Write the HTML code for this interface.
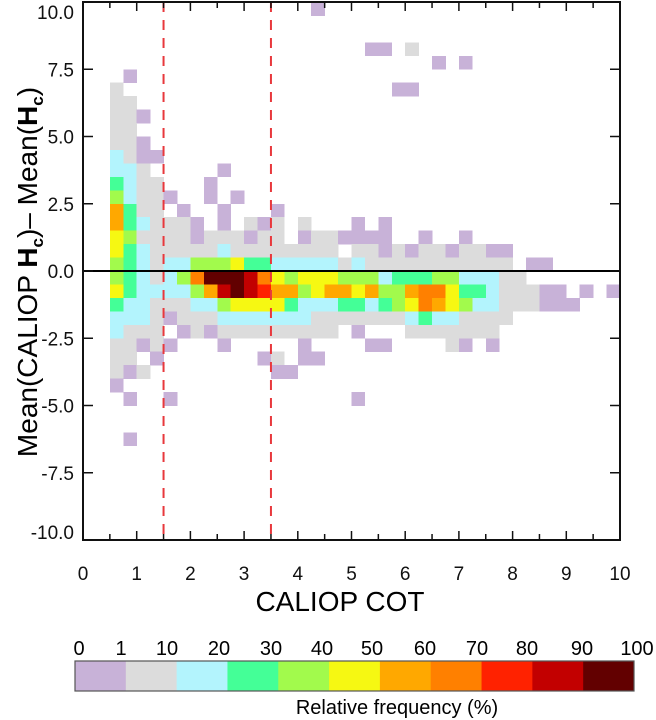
<!DOCTYPE html>
<html><head><meta charset="utf-8"><style>
html,body{margin:0;padding:0;background:#fff;}
svg{display:block;font-family:"Liberation Sans",Arial,sans-serif;}
</style></head><body>
<svg id="chart" width="656" height="720" viewBox="0 0 656 720" xmlns="http://www.w3.org/2000/svg">
<g id="cells" shape-rendering="crispEdges"></g>
<g id="axes"></g>
<g id="cbar"></g>
<text x="340" y="611" font-size="28" text-anchor="middle">CALIOP COT</text>
<text transform="translate(37,272) rotate(-90)" font-size="28" text-anchor="middle">Mean(CALIOP <tspan font-weight="bold">H</tspan><tspan font-weight="bold" font-size="17" dy="6">c</tspan><tspan dy="-6">)– Mean(</tspan><tspan font-weight="bold">H</tspan><tspan font-weight="bold" font-size="17" dy="6">c</tspan><tspan dy="-6">)</tspan></text>
<text x="397" y="714" font-size="20" text-anchor="middle">Relative  frequency (%)</text>
</svg>
<script>
// Grid data: x bins of 0.25 starting at 0.5 (38 columns), y bins of 0.5 from 10 down to -10 (40 rows)
// codes: 0 none, 1: 0-1%, 2: 1-10, 3: 10-20, 4: 20-30, 5: 30-40, 6: 40-50, 7: 50-60, 8: 60-70, 9: 70-80, A: 80-90, B: 90-100
const xStart = 0.5;
const xBin = 0.25;
const yTop = 10;
const yBin = 0.5;
const gridRows = [
"00000000000000010000000000000000000000",
"00000000000000000000000000000000000000",
"00000000000000000000000000000000000000",
"00000000000000000001102000000000000000",
"00000000000000000000000010100000000000",
"01000000000000000000000000000000000000",
"20000000000000000000011000000000000000",
"22000000000000000000000000000000000000",
"22100000000000000000000000000000000000",
"22000000000000000000000000000000000000",
"22100000000000000000000000000000000000",
"32110000000000000000000000000000000000",
"33200000100000000000000000000000000000",
"43220001000000000000000000000000000000",
"53221001010000000000000000000000000000",
"74220100100010000000000000000000000000",
"74322210102120200010100000000000000000",
"65222212221220122111100100100000000000",
"64322222322222222022121221221100000000",
"54323355564433333232222222222201100000",
"5432358BBBA865666555344455333220000000",
"64333357ABA977567767557886443222110101",
"43322233566664333443456876533222111000",
"33321222333333322222223433222200000000",
"32220121222222222010002222222000000000",
"22121000100000100001100002101000000000",
"22010000000120110000000000000000000000",
"21200000000011000000000000000000000000",
"10000000000000000000000000000000000000",
"01001000000000000010000000000000000000",
"00000000000000000000000000000000000000",
"00000000000000000000000000000000000000",
"01000000000000000000000000000000000000",
"00000000000000000000000000000000000000",
"00000000000000000000000000000000000000",
"00000000000000000000000000000000000000",
"00000000000000000000000000000000000000",
"00000000000000000000000000000000000000",
"00000000000000000000000000000000000000",
"00000000000000000000000000000000000000"
];
const levelLabels = ["0","1","10","20","30","40","50","60","70","80","90","100"];
const levelColors = ["#c8b2d8","#dcdcdc","#b3f4fd","#44ff97","#a2fa4c","#f6f812","#ffa800","#ff8000","#ff2200","#c20000","#620000"];
const xTicks = [0,1,2,3,4,5,6,7,8,9,10];
const yTicks = [10,7.5,5,2.5,0,-2.5,-5,-7.5,-10];
const yTickLabels = ["10.0","7.5","5.0","2.5","0.0","-2.5","-5.0","-7.5","-10.0"];
const dashedX = [1.5,3.5];

const NS="http://www.w3.org/2000/svg";
const L=83,R=620,T=2,B=540;
const X=v=>L+(v-0)/(10-0)*(R-L);
const Y=v=>T+(10-v)/20*(B-T);
function mk(tag,attrs,parent){const e=document.createElementNS(NS,tag);for(const k in attrs)e.setAttribute(k,attrs[k]);parent.appendChild(e);return e;}

const cells=document.getElementById('cells');
gridRows.forEach((row,r)=>{
  for(let c=0;c<row.length;c++){
    const code=parseInt(row[c],16);
    if(!code)continue;
    const x0=X(xStart+c*xBin),x1=X(xStart+(c+1)*xBin);
    const y0=Y(yTop-r*yBin),y1=Y(yTop-(r+1)*yBin);
    const e=mk('rect',{x:x0,y:y0,width:x1-x0+0.3,height:y1-y0+0.3,fill:levelColors[code-1]},cells);
    
    
  }
});

const ax=document.getElementById('axes');
const zl=mk('line',{x1:L,x2:R,y1:Y(0),y2:Y(0),stroke:'#000','stroke-width':2},ax);


dashedX.forEach(v=>{
  const d=mk('line',{x1:X(v),x2:X(v),y1:T,y2:B,stroke:'#e8383c','stroke-width':2,'stroke-dasharray':'10,8'},ax);
  
  
});
const frame=mk('rect',{x:L,y:T,width:R-L,height:B-T,fill:'none',stroke:'#111','stroke-width':2},ax);


for(let v=0;v<=10;v+=0.5){
  const len=(v%1===0)?9:6;
  mk('line',{x1:X(v),x2:X(v),y1:B,y2:B-len,stroke:'#111','stroke-width':1.5},ax);
  mk('line',{x1:X(v),x2:X(v),y1:T,y2:T+len,stroke:'#111','stroke-width':1.5},ax);
}
xTicks.forEach(v=>{
  const t=mk('text',{x:X(v),y:580,'font-size':19,'text-anchor':'middle',fill:'#111'},ax);
  t.textContent=String(v);
  
  
});
yTicks.forEach((v,i)=>{
  mk('line',{x1:L,x2:L+10,y1:Y(v),y2:Y(v),stroke:'#111','stroke-width':1.5},ax);
  mk('line',{x1:R,x2:R-10,y1:Y(v),y2:Y(v),stroke:'#111','stroke-width':1.5},ax);
  let yy=Y(v)+7;
  if(v===10)yy=19; if(v===-10)yy=539;
  const t=mk('text',{x:74,y:yy,'font-size':19,'text-anchor':'end',fill:'#111'},ax);
  t.textContent=yTickLabels[i];
  
  
});

const cb=document.getElementById('cbar');
const cbL=75,cbR=634,cbT=661,cbB=691,segW=(cbR-cbL)/levelColors.length;
levelColors.forEach((col,i)=>{
  const s=mk('rect',{x:cbL+i*segW,y:cbT,width:segW+0.5,height:cbB-cbT,fill:col},cb);
  
  
});
mk('rect',{x:cbL,y:cbT,width:cbR-cbL,height:cbB-cbT,fill:'none',stroke:'#555','stroke-width':1.2},cb);
const cbLabelX=[79,121,167,219,271,322,372,425,477,527,582,637];
levelLabels.forEach((lab,i)=>{
  const t=mk('text',{x:cbLabelX[i],y:655,'font-size':20,'text-anchor':'middle',fill:'#000'},cb);
  t.textContent=lab;
  
  
});
</script>
</body></html>
